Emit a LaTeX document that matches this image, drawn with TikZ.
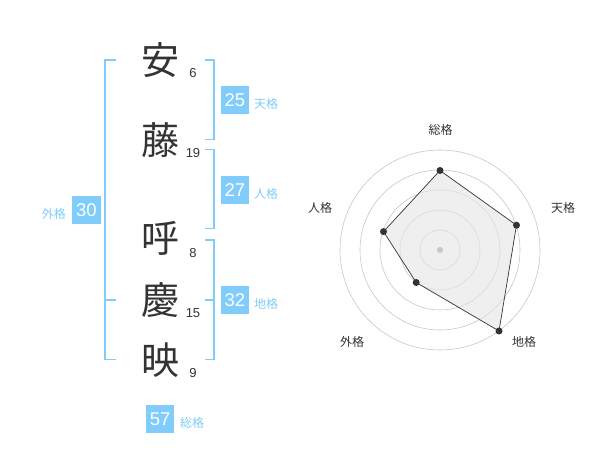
\documentclass[tikz,border=0pt]{standalone}
\usepackage{fontspec}
\usetikzlibrary{calc}
\setmainfont{Liberation Sans}
\newfontfamily\jp{Noto Sans CJK JP}
\definecolor{lblue}{HTML}{80CCFA}
\definecolor{dgray}{HTML}{333333}
\begin{document}
\begin{tikzpicture}[x=1pt,y=-1pt,
  kanji/.style={font=\jp\fontsize{38}{38}\selectfont, text=dgray, inner sep=0pt},
  strokes/.style={font=\fontsize{13}{13}\selectfont, text=dgray, inner sep=0pt},
  numbox/.style={fill=lblue, text=white, font=\fontsize{18.5}{18.5}\selectfont, minimum width=28.5pt, minimum height=28.5pt, inner sep=0pt},
  kaku/.style={font=\jp\fontsize{12}{12}\selectfont, text=lblue, inner sep=0pt},
  brk/.style={draw=lblue, line width=1.8pt},
  ring/.style={draw=black!22, line width=0.6pt},
  axislbl/.style={font=\jp\fontsize{12}{12}\selectfont, text=dgray, inner sep=0pt},
  pt/.style={circle, fill=dgray, inner sep=0pt, minimum size=7pt}]
\useasboundingbox (0,0) rectangle (600,470);
% characters
\node[kanji] (c1) at (160,60) {安};
\node[kanji] (c2) at (160,140) {藤};
\node[kanji] (c3) at (160,238) {呼};
\node[kanji] (c4) at (160,300) {慶};
\node[kanji] (c5) at (160,360) {映};
\node[strokes] (s1) at (193,73) {6};
\node[strokes] (s2) at (193,153) {19};
\node[strokes] (s3) at (193,253) {8};
\node[strokes] (s4) at (193,313) {15};
\node[strokes] (s5) at (193,373) {9};
% brackets right
\draw[brk] (205,60) -- (214,60) -- (214,139.5) -- (205,139.5);
\draw[brk] (205,149.5) -- (214,149.5) -- (214,228.5) -- (205,228.5);
\draw[brk] (205,240) -- (214,240) -- (214,359.5) -- (205,359.5);
\draw[brk] (205,300) -- (214,300);
% bracket left
\draw[brk] (116,60) -- (105,60) -- (105,359.5) -- (116,359.5);
\draw[brk] (105,300) -- (116,300);
% boxes
\node[numbox] (b25) at (234.8,100.2) {25};
\node[kaku, anchor=west] (k25) at (254,104) {天格};
\node[numbox] (b27) at (234.8,190) {27};
\node[kaku, anchor=west] (k27) at (254,194) {人格};
\node[numbox] (b30) at (86.5,210) {30};
\node[kaku, anchor=east] (k30) at (66,214) {外格};
\node[numbox] (b32) at (234.8,300.2) {32};
\node[kaku, anchor=west] (k32) at (254,304) {地格};
\node[numbox] (b57) at (160.2,419.2) {57};
\node[kaku, anchor=west] (k57) at (180,423) {総格};
% radar
\coordinate (o) at (440,250);
\foreach \r in {20,40,60,80,100} \draw[ring] (o) circle[radius=\r];
\coordinate (p1) at ($(o)+(0,-79.5)$);
\coordinate (p2) at ($(o)+(76.5,-24.8)$);
\coordinate (p3) at ($(o)+(59,81)$);
\coordinate (p4) at ($(o)+(-23.8,32.5)$);
\coordinate (p5) at ($(o)+(-56.5,-18.4)$);
\filldraw[fill=black!10, fill opacity=0.6, draw=dgray, line width=0.7pt] (p1) -- (p2) -- (p3) -- (p4) -- (p5) -- cycle;
\foreach \p in {p1,p2,p3,p4,p5} \node[pt] at (\p) {};
\fill[black!22] (o) circle[radius=3];
\node[axislbl] (a1) at (440.7,130) {総格};
\node[axislbl] (a2) at (563,208) {天格};
\node[axislbl] (a3) at (524,342) {地格};
\node[axislbl] (a4) at (352,342) {外格};
\node[axislbl] (a5) at (320,208) {人格};
\end{tikzpicture}
\end{document}
